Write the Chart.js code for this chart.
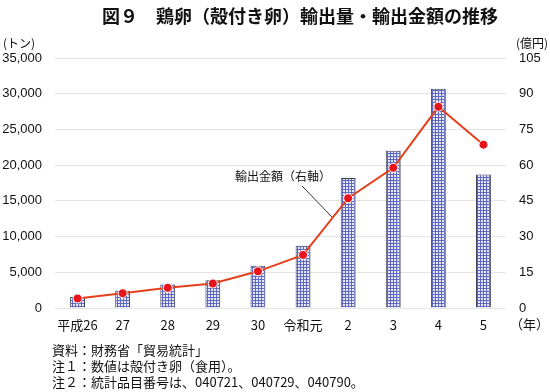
<!DOCTYPE html>
<html>
<head>
<meta charset="utf-8">
<script src="https://cdn.jsdelivr.net/npm/chart.js@4"></script>
<style>
  html, body { margin: 0; padding: 0; background: #fff; }
  #wrap { width: 550px; height: 392px; position: relative; }
</style>
</head>
<body>
<div id="wrap"><canvas id="eggChart" width="550" height="392"></canvas></div>
<script>
// Data
const years = ['平成26', '27', '28', '29', '30', '令和元', '2', '3', '4', '5'];
const exportVolume = [1550, 2400, 3300, 3900, 5900, 8700, 18200, 22000, 30700, 18700]; // トン
const exportValue = [4.0, 6.2, 8.5, 10.3, 15.4, 22.3, 46.1, 58.9, 84.5, 68.6]; // 億円
const leftTicks = [0, 5000, 10000, 15000, 20000, 25000, 30000, 35000];
const rightTicks = [0, 15, 30, 45, 60, 75, 90, 105];
const notes = ['資料：財務省「貿易統計」', '注１：数値は殻付き卵（食用）。', '注２：統計品目番号は、040721、040729、040790。'];

const jpFont = '"Noto Sans CJK JP", "Noto Sans", sans-serif';
const numFont = '"Liberation Sans", Arial, sans-serif';

// mesh pattern for the bars
function makePattern() {
  const c = document.createElement('canvas');
  c.width = 3; c.height = 3;
  const g = c.getContext('2d');
  g.fillStyle = '#e6e8f8';
  g.fillRect(0, 0, 3, 3);
  g.fillStyle = '#5e68c0';
  g.fillRect(0, 0, 3, 1);
  g.fillRect(0, 0, 1, 3);
  return g.createPattern(c, 'repeat');
}

// Extra texts: title, units, annotation, notes
const textPlugin = {
  id: 'texts',
  afterDraw(chart) {
    const g = chart.ctx;
    g.save();
    g.fillStyle = '#111';
    g.textBaseline = 'middle';
    g.font = 'bold 18px ' + jpFont;
    g.textAlign = 'center';
    g.fillText('図９　鶏卵（殻付き卵）輸出量・輸出金額の推移', 300, 16);

    g.font = '12px ' + jpFont;
    g.textAlign = 'left';
    g.fillText('(トン)', 3, 43);
    g.fillText('輸出金額（右軸）', 235, 176);
    g.textAlign = 'right';
    g.fillText('(億円)', 548, 43);
    g.font = '13px ' + jpFont;
    g.fillText('（年）', 549, 324);
    g.textAlign = 'left';
    notes.forEach((t, i) => g.fillText(t, 52, 350 + i * 16));

    // leader line
    g.strokeStyle = '#333';
    g.lineWidth = 1;
    g.beginPath();
    g.moveTo(302, 186);
    g.lineTo(332, 217);
    g.stroke();
    g.restore();
  }
};

const ctx = document.getElementById('eggChart').getContext('2d');
const eggChart = new Chart(ctx, {
  data: {
    labels: years,
    datasets: [{
      type: 'line',
      label: '輸出金額',
      data: exportValue,
      yAxisID: 'y1',
      borderColor: '#e4401c',
      borderWidth: 2,
      pointRadius: 4.5,
      pointBackgroundColor: '#e8141c',
      pointBorderColor: '#fff',
      pointBorderWidth: 1,
      tension: 0,
      order: 0,
    }, {
      type: 'bar',
      label: '輸出量',
      data: exportVolume,
      yAxisID: 'y',
      backgroundColor: makePattern(),
      borderColor: '#3c3f58',
      borderWidth: 1,
      categoryPercentage: 1,
      barPercentage: 0.33,
      order: 1,
    }],
  },
  options: {
    responsive: false,
    animation: false,
    layout: { padding: { top: 58, bottom: 54, left: 0, right: 0 } },
    plugins: {
      legend: { display: false },
      tooltip: { enabled: false },
    },
    scales: {
      x: {
        grid: { display: false, drawTicks: false },
        border: { display: false },
        ticks: { color: '#111', padding: 9, font: { family: jpFont, size: 13 }, maxRotation: 0, autoSkip: false },
        afterFit(s) { s.height = 30; },
      },
      y: {
        position: 'left',
        min: 0, max: 35000,
        afterBuildTicks(s) { s.ticks = leftTicks.map(v => ({ value: v })); },
        grid: { color: '#e4e4e4', lineWidth: 1, drawTicks: false },
        border: { display: false },
        ticks: {
          color: '#111', padding: 13,
          font: { family: numFont, size: 13 },
          callback: v => v.toLocaleString('en-US'),
        },
        afterFit(s) { s.width = 55; },
      },
      y1: {
        position: 'right',
        min: 0, max: 105,
        afterBuildTicks(s) { s.ticks = rightTicks.map(v => ({ value: v })); },
        grid: { display: false, drawTicks: false },
        border: { display: false },
        ticks: { color: '#111', padding: 13, font: { family: numFont, size: 13 } },
        afterFit(s) { s.width = 44; },
      },
    },
  },
  plugins: [textPlugin],
});
</script>
</body>
</html>
